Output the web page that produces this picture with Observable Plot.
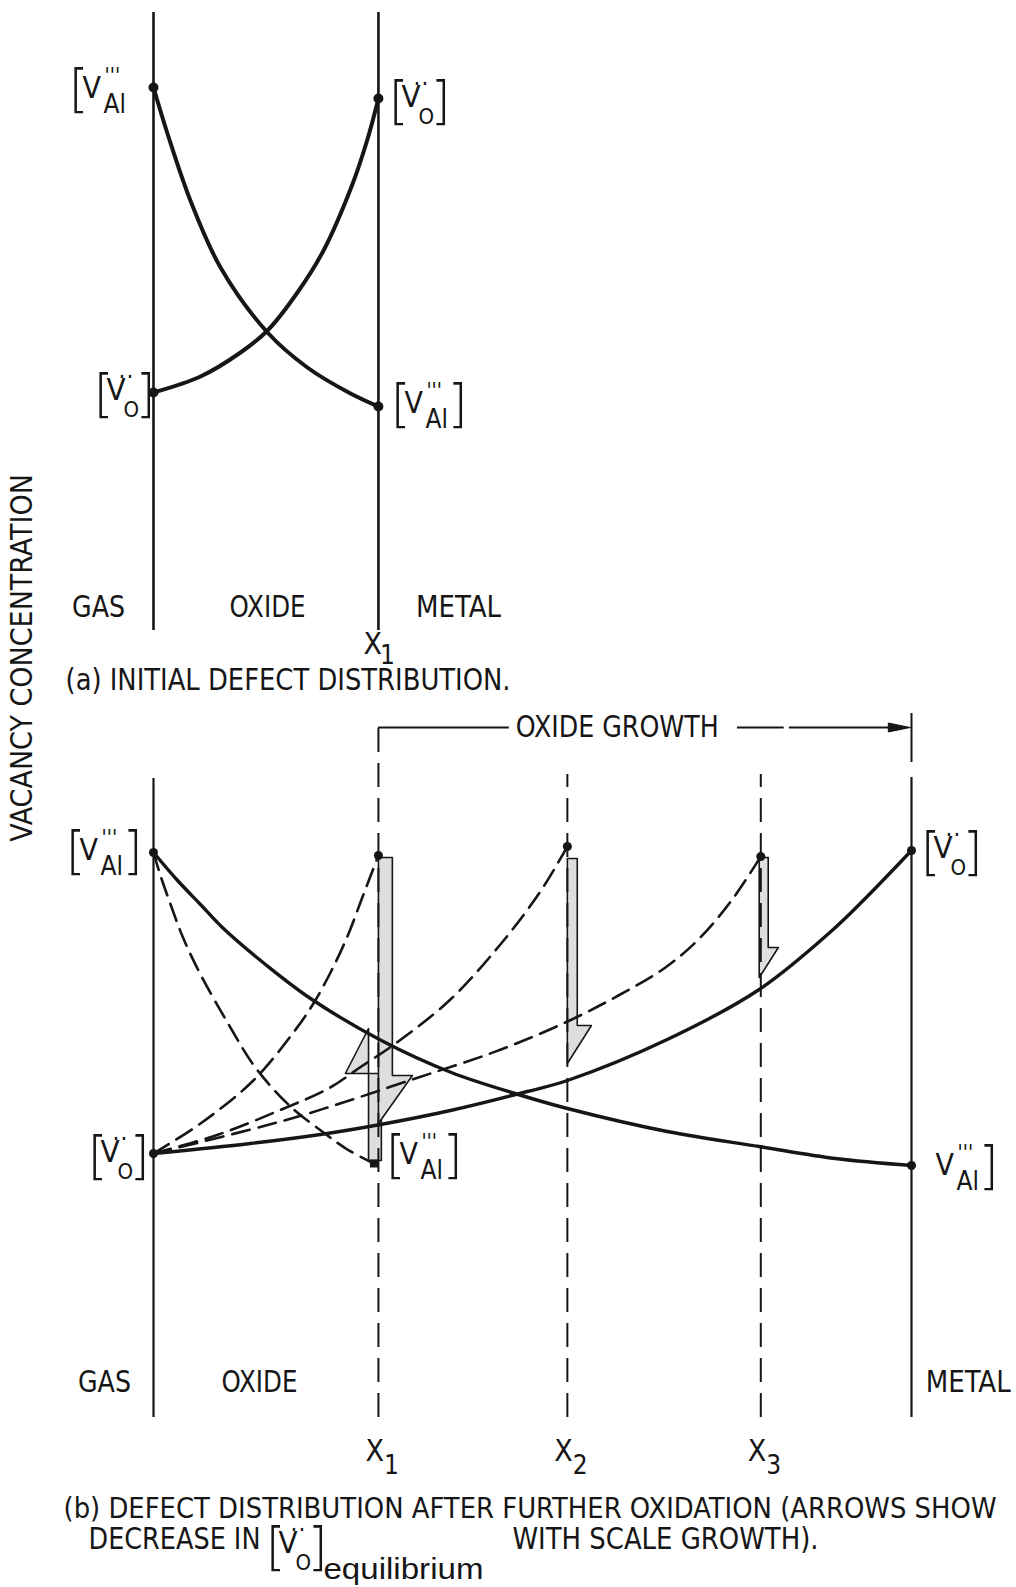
<!DOCTYPE html>
<html><head><meta charset="utf-8">
<script src="https://cdn.jsdelivr.net/npm/d3@7"></script>
<script src="https://cdn.jsdelivr.net/npm/@observablehq/plot@0.6"></script>
<style>
body{margin:0;background:#fff;}
#wrap{position:relative;width:1016px;height:1587px;overflow:hidden;background:#fff;}
#wrap svg{position:absolute;left:0;}
#ylab{position:absolute;left:21px;top:658px;transform:translate(-50%,-50%) rotate(-90deg);white-space:nowrap;font-size:30px;color:#161616;font-family:'Liberation Sans Narrow','Arial Narrow','DejaVu Sans Condensed',sans-serif;}
</style></head>
<body><div id="wrap"><div id="ylab">VACANCY CONCENTRATION</div></div>
<script>
const F = "'Liberation Sans Narrow','Arial Narrow','DejaVu Sans Condensed',sans-serif";
const INK = "#161616";

// ---------------- DATA ----------------
// depth units: gas/oxide interface = 0, initial oxide/metal interface X1 = 1
const ifaceSubs = ["1", "2", "3"];
const ifaceDepth = [1, 1.84, 2.70];
const metalDepth = 3.37;

// panel (a) initial defect distribution
const aWalls = [0, 1];
const aAlDepth = [0, 0.062, 0.164, 0.298, 0.507, 0.684, 0.876, 1.0];
const aAlConc  = [54.3, 49.7, 43.0, 36.3, 29.8, 26.3, 23.7, 22.4];
const aODepth  = [0, 0.209, 0.387, 0.507, 0.64, 0.756, 0.884, 0.951, 1.0];
const aOConc   = [23.8, 25.4, 27.8, 30.0, 33.8, 38.0, 44.6, 49.1, 53.2];
const aRegionNames = ["GAS", "OXIDE", "METAL"];
const aRegionDepth = [-0.244, 0.507, 1.356];

// panel (b) after further oxidation — solid (current) profiles
const bAlDepth = [0, 0.107, 0.209, 0.311, 0.498, 0.698, 1.013, 1.324, 1.622, 1.84, 2.284, 2.693, 3.031, 3.37];
const bAlConc  = [56.5, 53.7, 51.3, 48.9, 45.3, 41.9, 37.7, 34.5, 32.3, 30.9, 28.6, 27.1, 25.9, 25.2];
const bODepth  = [0, 0.431, 0.742, 1.009, 1.32, 1.662, 1.84, 2.284, 2.693, 3.022, 3.173, 3.37];
const bOConc   = [26.4, 27.4, 28.3, 29.3, 30.7, 32.6, 33.7, 37.8, 42.8, 48.8, 52.1, 56.7];
// dashed (earlier) profiles
const dAlDepth = [0, 0.031, 0.076, 0.133, 0.209, 0.329, 0.453, 0.609, 0.756, 0.862, 0.98];
const dAlConc  = [56.5, 54.2, 51.3, 47.9, 44.3, 39.5, 35.0, 31.1, 28.5, 26.8, 25.4];
const dO1Depth = [0, 0.209, 0.444, 0.622, 0.711, 0.787, 0.862, 0.92, 0.964, 1.0];
const dO1Conc  = [26.4, 29.4, 33.7, 38.5, 41.4, 44.5, 48.1, 51.5, 54.1, 56.2];
const dO2Depth = [0, 0.289, 0.569, 0.778, 0.924, 1.076, 1.32, 1.542, 1.72, 1.84];
const dO2Conc  = [26.4, 28.3, 30.8, 32.9, 35.1, 37.4, 41.8, 47.3, 52.6, 57.1];
const dO3Depth = [0, 0.613, 1.164, 1.533, 1.831, 2.067, 2.276, 2.427, 2.573, 2.70];
const dO3Conc  = [26.4, 29.9, 33.9, 36.7, 39.5, 42.2, 45.0, 47.9, 51.8, 56.1];
const bRegionNames = ["GAS", "OXIDE", "METAL"];
const bRegionDepth = [-0.218, 0.471, 3.622];

// block arrows (change in equilibrium concentration at each interface)
const arrowEdge  = [0.956, 1.0, 1.84, 2.693];
const arrowShaft = [1.013, 1.062, 1.884, 2.733];
const arrowWing  = [0.853, 1.151, 1.947, 2.778];
const arrowStart = [25.7, 56.0, 55.9, 56.0];
const arrowHead  = [34.4, 34.2, 39.2, 47.0];
const arrowTip   = [38.9, 29.4, 35.4, 44.0];

// ---------------- helpers ----------------
const pts = (xs, ys, id) => xs.map((x, i) => ({x, y: ys[i], id}));
const ends = (arr) => [arr[0], arr[arr.length - 1]];
const txt = (s, x, y, opts = {}) => Plot.text([s], {x: () => x, y: () => y, text: d => d, fill: INK, fontFamily: F, fontSize: 30, ...opts});
// species label: one text element, expanded into tspans after rendering
const species = (x, y, kind, dx, dy, flags = "oc") => Plot.text([{x, y}], {x: "x", y: "y", text: () => `§${kind}|${dx}|${dy}|${flags}`, fill: INK, fontFamily: F, fontSize: 30});
const xLabel = (x, y, sub, dxX, dxS, dyS) => Plot.text([{x, y}], {x: "x", y: "y", text: () => `§X|${dxX}|${dxS}|${dyS}|${sub}`, fill: INK, fontFamily: F, fontSize: 30});

const BR = {"font-family": "'DejaVu Sans',sans-serif", "font-weight": 200};
const SPEC = {
  Al: {open: ["[", -5, 16, 52, BR], body: [["V", 9, 8, 30], ["'''", 31, -7, 21], ["Al", 30, 23.5, 26]], close: ["]", 52, 16, 52, BR]},
  O:  {open: ["[", -5, 16, 52, BR], body: [["V", 8, 5, 31], ["·", 20, -10, 24], ["·", 28, -10, 24], ["O", 25, 22, 22]], close: ["]", 37, 16, 52, BR]}
};
const FIT = {
  "(a) INITIAL DEFECT DISTRIBUTION.": 445,
  "(b) DEFECT DISTRIBUTION AFTER FURTHER OXIDATION (ARROWS SHOW": 933,
  "DECREASE IN": 172, "WITH SCALE GROWTH).": 306, "OXIDE GROWTH": 203,
  "GAS": 53, "OXIDE": 76, "METAL": 85
};
const NS = "http://www.w3.org/2000/svg";
const num = (v) => (v != null && v !== "" && !isNaN(+v)) ? +v : 0;
function finish(svg) {
  svg.querySelectorAll("text").forEach(el => {
    const s = el.textContent;
    if (FIT[s]) { el.setAttribute("textLength", FIT[s]); el.setAttribute("lengthAdjust", "spacingAndGlyphs"); return; }
    if (!s.startsWith("§")) return;
    const p = s.slice(1).split("|");
    const x0 = num(el.getAttribute("x")), y0 = num(el.getAttribute("y"));
    el.removeAttribute("dy"); el.removeAttribute("y"); el.removeAttribute("x");
    el.setAttribute("text-anchor", "start");
    el.textContent = "";
    const add = (str, ox, oy, size, extra = {}) => {
      const t = document.createElementNS(NS, "tspan");
      t.setAttribute("x", (x0 + ox).toFixed(2)); t.setAttribute("y", (y0 + oy).toFixed(2)); t.setAttribute("font-size", size);
      for (const k in extra) t.setAttribute(k, extra[k]);
      t.textContent = str; el.appendChild(t);
    };
    if (p[0] === "X") {
      const [, dxX, dxS, dyS, sub] = p;
      add("X", +dxX, 11, 30);
      add(sub, +dxS, 11 + +dyS, 26);
      return;
    }
    const spec = SPEC[p[0]], dx = +p[1], dy = +p[2], flags = p[3];
    const pieces = [];
    if (flags.includes("o")) pieces.push(spec.open);
    pieces.push(...spec.body);
    if (flags.includes("c")) pieces.push(spec.close);
    pieces.forEach(([str, ox, oy, size, extra]) => add(str, dx + ox, dy + oy, size, extra));
    if (flags.includes("e")) add("equilibrium", dx + 53, dy + 31, 30, {"font-family": "'Liberation Sans',Arial,sans-serif", "textLength": 160, "lengthAdjust": "spacingAndGlyphs"});
  });
  return svg;
}

const xs = {domain: [0, metalDepth], range: [153, 911], axis: null};
const wrap = document.getElementById("wrap");

// ---------------- PANEL A ----------------
const aAl = pts(aAlDepth, aAlConc, "Al");
const aO = pts(aODepth, aOConc, "O");
const plotA = Plot.plot({
  width: 1016, height: 700, margin: 0,
  x: xs,
  y: {domain: [-7, 63], range: [700, 0], axis: null},
  style: {background: "transparent", overflow: "visible", fontFamily: F},
  marks: [
    Plot.ruleX(aWalls, {x: d => d, y1: 0, y2: 61.8, stroke: INK, strokeWidth: 2.6}),
    Plot.line(aAl, {x: "x", y: "y", curve: "catmull-rom", stroke: INK, strokeWidth: 4}),
    Plot.line(aO, {x: "x", y: "y", curve: "catmull-rom", stroke: INK, strokeWidth: 4}),
    Plot.dot([...ends(aAl), ...ends(aO)], {x: "x", y: "y", r: 5, fill: INK}),
    species(aAl[0].x, aAl[0].y, "Al", -80, 2, "o"),
    species(aO[aO.length-1].x, aO[aO.length-1].y, "O", 15, 3),
    species(aO[0].x, aO[0].y, "O", -55, 2),
    species(aAl[aAl.length-1].x, aAl[aAl.length-1].y, "Al", 17, -2),
    Plot.text(aRegionNames, {x: (d, i) => aRegionDepth[i], y: () => 2.3, text: d => d, fontSize: 30, fill: INK, fontFamily: F}),
    xLabel(1, -1.2, "1", -15, 1.5, 10),
    txt("(a) INITIAL DEFECT DISTRIBUTION.", -0.391, -5.0, {textAnchor: "start"})
  ]
});
plotA.style.top = "0px";
wrap.appendChild(finish(plotA));

// ---------------- PANEL B ----------------
const bAl = pts(bAlDepth, bAlConc, "Al");
const bO = pts(bODepth, bOConc, "O");
const dashed = [
  ...pts(dAlDepth, dAlConc, "dAl"),
  ...pts(dO1Depth, dO1Conc, "d1"),
  ...pts(dO2Depth, dO2Conc, "d2"),
  ...pts(dO3Depth, dO3Conc, "d3")
];
const arrows = arrowEdge.flatMap((e, i) => [
  [e, arrowStart[i]], [arrowShaft[i], arrowStart[i]], [arrowShaft[i], arrowHead[i]],
  [arrowWing[i], arrowHead[i]], [e, arrowTip[i]], [e, arrowStart[i]]
].map(([x, y]) => ({x, y, id: i})));
const growthY = 69.0;
const growthHead = [{x: 3.364, y: growthY}, {x: 3.267, y: growthY + 0.45}, {x: 3.267, y: growthY - 0.45}, {x: 3.364, y: growthY}];
const x1Bottom = dashed.filter(d => d.id === "dAl").slice(-1);
const topDots = [
  ...ends(bAl), ...ends(bO),
  ...["d1", "d2", "d3"].map(id => dashed.filter(d => d.id === id).slice(-1)[0])
];

const plotB = Plot.plot({
  width: 1016, height: 887, margin: 0,
  x: xs,
  y: {domain: [-17, 70], range: [887, 17], axis: null},
  style: {background: "transparent", overflow: "visible", fontFamily: F},
  marks: [
    Plot.line(arrows, {x: "x", y: "y", z: "id", fill: "#dedede", stroke: INK, strokeWidth: 1.6, curve: "linear"}),
    Plot.ruleX([0], {x: d => d, y1: 0, y2: 63.9, stroke: INK, strokeWidth: 2.2}),
    Plot.ruleX([metalDepth], {x: d => d, y1: 0, y2: 64.0, stroke: INK, strokeWidth: 2.2}),
    Plot.ruleX([metalDepth], {x: d => d, y1: 65.5, y2: 70.4, stroke: INK, strokeWidth: 2}),
    Plot.ruleX([ifaceDepth[0]], {x: d => d, y1: 0, y2: growthY, stroke: INK, strokeWidth: 2, strokeDasharray: "24,11"}),
    Plot.ruleX(ifaceDepth.slice(1), {x: d => d, y1: 0, y2: 64.3, stroke: INK, strokeWidth: 2, strokeDasharray: "24,11"}),
    Plot.ruleY([growthY], {x1: 1.0, x2: 1.582, stroke: INK, strokeWidth: 1.8}),
    Plot.ruleY([growthY], {x1: 2.596, x2: 2.804, stroke: INK, strokeWidth: 1.8}),
    Plot.ruleY([growthY], {x1: 2.827, x2: 3.27, stroke: INK, strokeWidth: 1.8}),
    Plot.line(growthHead, {x: "x", y: "y", fill: INK, stroke: INK, strokeWidth: 1}),
    txt("OXIDE GROWTH", 2.062, growthY),
    Plot.line(dashed, {x: "x", y: "y", z: "id", curve: "catmull-rom", stroke: INK, strokeWidth: 2.6, strokeDasharray: "18,9"}),
    Plot.line(bAl, {x: "x", y: "y", curve: "catmull-rom", stroke: INK, strokeWidth: 3.4}),
    Plot.line(bO, {x: "x", y: "y", curve: "catmull-rom", stroke: INK, strokeWidth: 3.4}),
    Plot.dot(topDots, {x: "x", y: "y", r: 4.5, fill: INK}),
    Plot.dot(x1Bottom, {x: "x", y: "y", r: 4.5, symbol: "square", fill: INK}),
    species(0, 56.5, "Al", -83, -1),
    species(0, 26.4, "O", -61, 3),
    species(x1Bottom[0].x, x1Bottom[0].y, "Al", 16.5, -8),
    species(metalDepth, 56.7, "O", 14, 2),
    species(metalDepth, 25.2, "Al", 15, 1, "c"),
    Plot.text(bRegionNames, {x: (d, i) => bRegionDepth[i], y: () => 3.5, text: d => d, fontSize: 30, fill: INK, fontFamily: F}),
    ...ifaceDepth.map((x, i) => xLabel(x, -3.2, ifaceSubs[i], -13, 5.5, 13)),
    txt("(b) DEFECT DISTRIBUTION AFTER FURTHER OXIDATION (ARROWS SHOW", -0.4, -9.1, {textAnchor: "start", fontSize: 28.5}),
    txt("DECREASE IN", -0.289, -12.2, {textAnchor: "start"}),
    species(0.52, -13.0, "O", 0, 0, "oce"),
    txt("WITH SCALE GROWTH).", 1.596, -12.2, {textAnchor: "start"})
  ]
});
plotB.style.top = "700px";
wrap.appendChild(finish(plotB));
</script>
</body></html>
